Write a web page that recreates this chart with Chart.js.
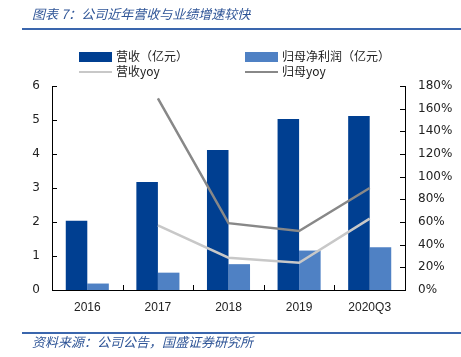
<!DOCTYPE html>
<html><head><meta charset="utf-8">
<script src="https://cdn.jsdelivr.net/npm/chart.js@4/dist/chart.umd.min.js"></script>
<style>
html,body{margin:0;padding:0;background:#fff;width:461px;height:357px;overflow:hidden;}
#wrap{position:relative;width:461px;height:357px;}
#c{position:absolute;left:0;top:0;}
.t{position:absolute;font-family:"Noto Sans CJK SC",sans-serif;font-style:italic;color:#2F5597;font-size:13px;white-space:nowrap;line-height:1;}
.hl{position:absolute;left:22px;width:439px;height:2px;background:#3A66AD;}
.lg{position:absolute;font-family:"Noto Sans CJK SC",sans-serif;font-size:12px;color:#222;white-space:nowrap;line-height:1;}
.sw{position:absolute;}
</style></head><body>
<div id="wrap">
<canvas id="c" width="461" height="357"></canvas>
<div class="t" style="left:32px;top:7px;">图表 7：公司近年营收与业绩增速较快</div>
<div class="hl" style="top:28px;"></div>
<div class="hl" style="top:332px;height:1.5px;"></div>
<div class="t" style="left:32px;top:335px;">资料来源：公司公告，国盛证券研究所</div>
<div class="sw" style="left:79px;top:52px;width:33px;height:10px;background:#003F91;"></div>
<div class="lg" style="left:116px;top:50px;">营收（亿元）</div>
<div class="sw" style="left:245px;top:52px;width:33px;height:10px;background:#4F81C4;"></div>
<div class="lg" style="left:282px;top:50px;">归母净利润（亿元）</div>
<div class="sw" style="left:79px;top:71px;width:33px;height:2px;background:#C8C8C8;"></div>
<div class="lg" style="left:116px;top:65px;">营收yoy</div>
<div class="sw" style="left:245px;top:71px;width:33px;height:2px;background:#888;"></div>
<div class="lg" style="left:282px;top:65px;">归母yoy</div>
</div>
<script>
const categories = ['2016','2017','2018','2019','2020Q3'];
const revenue = [2.04, 3.18, 4.12, 5.03, 5.12];
const netProfit = [0.19, 0.51, 0.76, 1.16, 1.26];
const revenueYoy = [null, 57, 28.5, 24, 63];
const netProfitYoy = [null, 169, 59, 52, 90];

const inwardTicks = {
  id:'inwardTicks',
  afterDatasetsDraw(chart){
    const ctx = chart.ctx, a = chart.chartArea;
    const y = chart.scales.y, y1 = chart.scales.y1, x = chart.scales.x;
    ctx.save();
    ctx.strokeStyle = '#000'; ctx.lineWidth = 1;
    ctx.beginPath();
    y.ticks.forEach((t,i)=>{ const p = Math.round(y.getPixelForTick(i))+0.5; ctx.moveTo(a.left, p); ctx.lineTo(a.left+5, p); });
    y1.ticks.forEach((t,i)=>{ const p = Math.round(y1.getPixelForTick(i))+0.5; ctx.moveTo(a.right-5, p); ctx.lineTo(a.right, p); });
    for (let i=1;i<categories.length;i++){
      const p = Math.round((x.getPixelForValue(i-1)+x.getPixelForValue(i))/2)+0.5;
      ctx.moveTo(p, a.bottom); ctx.lineTo(p, a.bottom-5);
    }
    ctx.stroke();
    ctx.restore();
  }
};

new Chart(document.getElementById('c'), {
  data: {
    labels: categories,
    datasets: [
      {type:'line', label:'营收yoy', data: revenueYoy, yAxisID:'y1', borderColor:'#C8C8C8', borderWidth:2.5, pointRadius:0, tension:0, order:0},
      {type:'line', label:'归母yoy', data: netProfitYoy, yAxisID:'y1', borderColor:'#888888', borderWidth:2.5, pointRadius:0, tension:0, order:0},
      {type:'bar', label:'营收（亿元）', data: revenue, yAxisID:'y', backgroundColor:'#003F91', categoryPercentage:0.61, barPercentage:1, order:1},
      {type:'bar', label:'归母净利润（亿元）', data: netProfit, yAxisID:'y', backgroundColor:'#4F81C4', categoryPercentage:0.61, barPercentage:1, order:1}
    ]
  },
  options: {
    responsive:false, animation:false,
    layout:{padding:{top:86, left:0, right:0, bottom:0}},
    plugins:{legend:{display:false}, tooltip:{enabled:false}, title:{display:false}},
    scales:{
      x:{
        grid:{display:false, drawTicks:false},
        border:{display:true, color:'#000', width:1},
        ticks:{color:'#222', font:{family:'"Liberation Sans", Arial, sans-serif', size:12}, padding:10, maxRotation:0},
        afterFit(s){ s.height = 67; }
      },
      y:{
        position:'left', min:0, max:6,
        grid:{display:false, drawTicks:false},
        border:{display:true, color:'#000', width:1},
        ticks:{stepSize:1, color:'#222', font:{family:'"DejaVu Sans", sans-serif', size:12}, padding:12},
        afterFit(s){ s.width = 52; }
      },
      y1:{
        position:'right', min:0, max:180,
        grid:{display:false, drawTicks:false},
        border:{display:true, color:'#000', width:1},
        ticks:{stepSize:20, color:'#222', font:{family:'"DejaVu Sans", sans-serif', size:12}, padding:13, callback:v=>v+'%'},
        afterFit(s){ s.width = 56; }
      }
    }
  },
  plugins:[inwardTicks]
});
</script>
</body></html>
